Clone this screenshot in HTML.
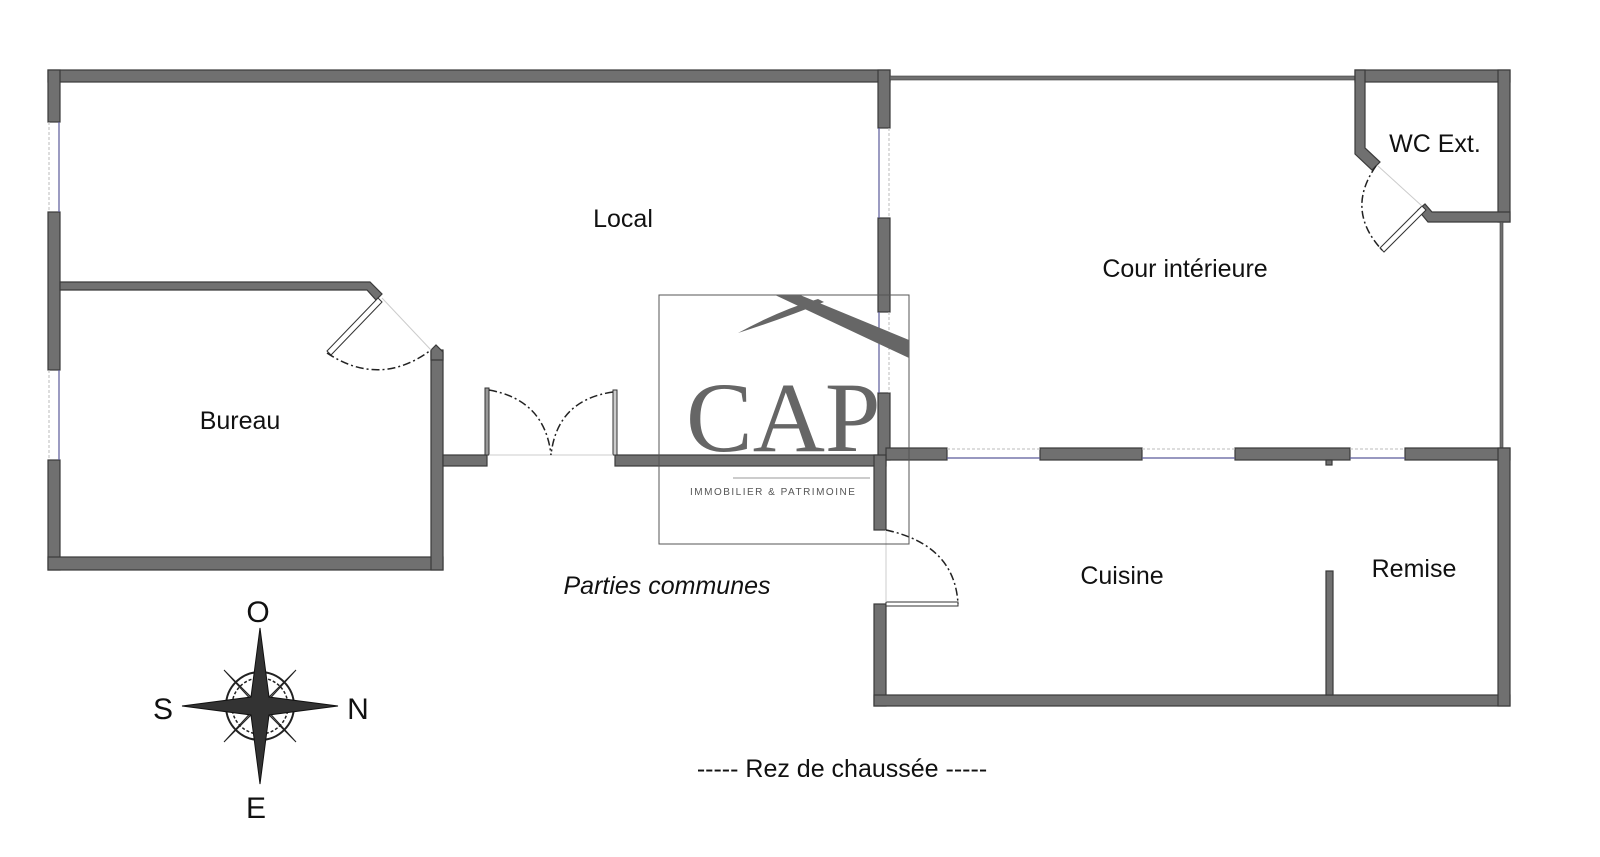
<!DOCTYPE html>
<html><head><meta charset="utf-8"><style>
html,body{margin:0;padding:0;background:#fff}
svg{display:block}
text{font-family:"Liberation Sans",sans-serif;fill:#111}
</style></head><body>
<svg width="1600" height="857" viewBox="0 0 1600 857" xmlns="http://www.w3.org/2000/svg">
<g fill="#707070" stroke="#3a3a3a" stroke-width="1.2">
<!-- left block -->
<rect x="48" y="70" width="842" height="12"/>
<rect x="48" y="70" width="12" height="52"/>
<rect x="48" y="212" width="12" height="158"/>
<rect x="48" y="460" width="12" height="110"/>
<rect x="48" y="557" width="395" height="13"/>
<rect x="431" y="350" width="12" height="220"/>
<path d="M431 350 L436 345 L443 352 L443 360 L431 360 Z"/>
<path d="M60 282 L370 282 L382 294 L376 300 L367 290 L60 290 Z"/>
<rect x="443" y="455" width="44" height="11"/>
<rect x="615" y="455" width="271" height="11"/>
<!-- local right wall -->
<rect x="878" y="70" width="12" height="58"/>
<rect x="878" y="218" width="12" height="94"/>
<rect x="878" y="393" width="12" height="67"/>
<!-- cour -->
<rect x="890" y="76" width="465" height="4" stroke-width="0.6"/>
<rect x="1355" y="70" width="155" height="12"/>
<path d="M1355 70 L1365 70 L1365 148 L1380 162 L1372 170 L1355 154 Z"/>
<rect x="1498" y="70" width="12" height="152"/>
<path d="M1432 212 L1510 212 L1510 222 L1428 222 L1418 210 L1425 204 Z"/>
<rect x="1500" y="222" width="3" height="226" stroke-width="0.6"/>
<!-- middle wall -->
<rect x="886" y="448" width="61" height="12"/>
<rect x="1040" y="448" width="102" height="12"/>
<rect x="1235" y="448" width="115" height="12"/>
<rect x="1326" y="460" width="6" height="5"/>
<rect x="1405" y="448" width="105" height="12"/>
<!-- cuisine -->
<rect x="874" y="455" width="12" height="75"/>
<rect x="874" y="604" width="12" height="102"/>
<rect x="874" y="695" width="636" height="11"/>
<rect x="1498" y="448" width="12" height="258"/>
<rect x="1326" y="571" width="7" height="124"/>
</g>
<!-- windows -->
<g stroke="#5a5a9a" stroke-width="1.2" fill="none">
<line x1="59" y1="122" x2="59" y2="212"/><line x1="59" y1="370" x2="59" y2="460"/>
<line x1="879" y1="128" x2="879" y2="218"/><line x1="879" y1="312" x2="879" y2="393"/>
<line x1="947" y1="458" x2="1040" y2="458"/><line x1="1142" y1="458" x2="1235" y2="458"/><line x1="1350" y1="458" x2="1405" y2="458"/>
</g>
<g stroke="#bbb" stroke-width="1" fill="none" stroke-dasharray="3,2">
<line x1="49" y1="122" x2="49" y2="212"/><line x1="49" y1="370" x2="49" y2="460"/>
<line x1="889" y1="128" x2="889" y2="218"/><line x1="889" y1="312" x2="889" y2="393"/>
<line x1="947" y1="449" x2="1040" y2="449"/><line x1="1142" y1="449" x2="1235" y2="449"/><line x1="1350" y1="449" x2="1405" y2="449"/>
</g>
<!-- doors -->
<g stroke="#333" fill="#fff" stroke-width="1">
<path d="M378 298 L382 302 L331 355 L327 351 Z"/>
<rect x="485" y="388" width="4" height="67" fill="#999"/>
<rect x="613" y="390" width="4" height="65" fill="#ccc"/>
<rect x="886" y="602" width="72" height="4"/>
<path d="M1422 206 L1426 210 L1384 252 L1380 248 Z"/>
</g>
<g stroke="#ccc" stroke-width="1" fill="none">
<line x1="382" y1="298" x2="431" y2="350"/><line x1="489" y1="455" x2="613" y2="455"/>
<line x1="886" y1="530" x2="886" y2="602"/><line x1="1378" y1="166" x2="1422" y2="206"/>
</g>
<g stroke="#222" stroke-width="1.5" fill="none" stroke-dasharray="8,3,2,3">
<path d="M327 353 Q380 388 431 350"/>
<path d="M489 390 Q545 400 551 455"/>
<path d="M613 392 Q557 400 551 455"/>
<path d="M886 530 Q955 545 958 604"/>
<path d="M1376 166 Q1345 210 1382 250"/>
</g>
<!-- logo -->
<rect x="659" y="295" width="250" height="249" fill="none" stroke="#555" stroke-width="1"/>
<path d="M775 295 L800 295 L909 340 L909 358 Z" fill="#666"/>
<path d="M738 333 Q780 310 818 299 L824 302 Q785 318 738 333 Z" fill="#666"/>
<text x="686" y="451" style="font-family:'Liberation Serif',serif;font-size:100px;fill:#666">CAP</text>
<line x1="733" y1="478" x2="870" y2="478" stroke="#999" stroke-width="1"/>
<text x="690" y="495" style="font-size:10px;letter-spacing:1.5px;fill:#555">IMMOBILIER &amp; PATRIMOINE</text>
<!-- labels -->
<g font-size="25" text-anchor="middle">
<text x="623" y="227">Local</text>
<text x="240" y="429">Bureau</text>
<text x="1185" y="277">Cour intérieure</text>
<text x="1435" y="152">WC Ext.</text>
<text x="1122" y="584">Cuisine</text>
<text x="1414" y="577">Remise</text>
<text x="667" y="594" font-style="italic">Parties communes</text>
<text x="842" y="777">----- Rez de chaussée -----</text>
<text x="258" y="622" font-size="30">O</text>
<text x="163" y="719" font-size="30">S</text>
<text x="358" y="719" font-size="30">N</text>
<text x="256" y="818" font-size="30">E</text>
</g>
<!-- compass -->
<g transform="translate(260,706)">
<circle r="34" fill="none" stroke="#222" stroke-width="2"/>
<circle r="28" fill="none" stroke="#222" stroke-width="1.5" stroke-dasharray="3,2"/>
<g fill="#888" stroke="#222" stroke-width="1">
<path d="M0 0 L-36 -36 L-6 -3 Z"/><path d="M0 0 L36 -36 L6 -3 Z"/>
<path d="M0 0 L-36 36 L-6 3 Z"/><path d="M0 0 L36 36 L6 3 Z"/>
</g>
<path d="M0 -78 L9 -9 L78 0 L9 9 L0 78 L-9 9 L-78 0 L-9 -9 Z" fill="#333" stroke="#111" stroke-width="1"/>
</g>
</svg>
</body></html>
